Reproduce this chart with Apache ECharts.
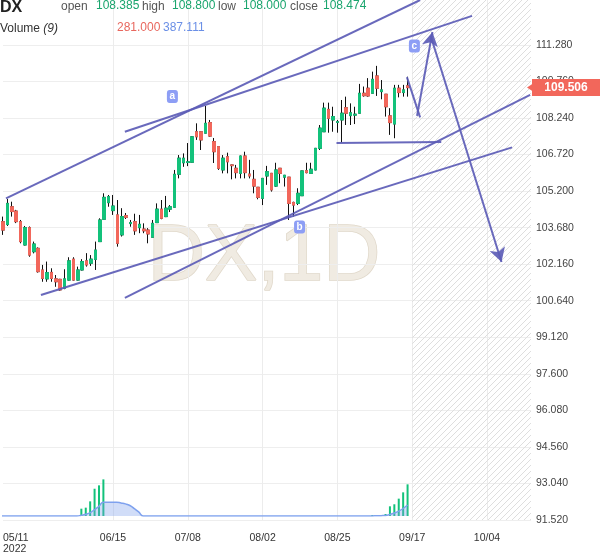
<!DOCTYPE html>
<html>
<head>
<meta charset="utf-8">
<script src="https://cdn.jsdelivr.net/npm/echarts@6.0.0/dist/echarts.min.js"></script>
<style>
  html, body { margin: 0; padding: 0; background: #fff; }
  #main { width: 600px; height: 558px; }
</style>
</head>
<body>
<div id="main"></div>
<script>
// daily bars, 2022-05-11 .. 2022-09-16
var openP = [103.93,103.81,104.55,104.37,103.93,102.96,103.68,102.68,102.82,101.92,
  101.55,101.82,101.55,101.53,101.16,101.50,102.37,101.50,101.92,102.30,
  102.20,102.36,103.10,104.03,104.72,104.39,104.21,103.38,104.18,103.85,
  103.93,103.68,103.62,103.58,103.28,103.89,104.45,104.14,104.45,104.53,
  105.90,106.38,106.39,106.40,107.67,107.67,107.61,108.05,107.26,107.05,
  106.08,106.63,106.29,106.15,105.94,106.66,105.91,105.69,105.36,104.90,
  105.83,105.94,105.41,106.15,105.78,105.78,104.73,104.69,105.01,106.05,
  105.94,106.08,106.98,107.67,108.60,108.16,108.06,108.16,108.67,108.34,
  108.36,108.44,109.27,109.48,109.27,109.99,109.34,109.23,108.33,107.99,
  109.48,109.30,109.58];
var highP = [104.14,104.87,104.76,104.42,104.00,103.75,103.73,103.10,102.86,102.13,
  102.27,101.99,101.71,101.55,101.95,102.45,102.45,102.06,102.37,102.62,
  102.54,103.10,104.07,105.11,105.04,105.04,104.83,104.49,104.29,104.00,
  104.26,104.21,103.86,103.66,104.00,104.69,104.83,105.00,104.62,106.08,
  106.70,106.77,107.20,107.49,108.02,107.70,108.74,108.16,107.41,107.06,
  106.70,106.80,106.30,106.29,106.67,106.84,106.50,106.08,105.37,105.74,
  106.25,105.95,106.38,106.16,105.87,105.79,104.76,105.32,106.05,106.38,
  106.38,106.99,107.95,108.88,108.88,108.71,108.16,108.99,109.13,108.85,
  108.71,109.66,109.55,109.90,110.17,110.41,109.82,109.24,108.65,109.62,
  109.62,109.62,109.96];
var lowP = [103.38,103.75,104.14,103.87,103.03,102.94,102.47,102.61,101.81,101.43,
  101.43,101.43,101.22,101.06,101.12,101.48,101.48,101.48,101.90,102.06,
  102.09,101.92,103.09,104.02,104.55,104.21,102.89,103.31,104.04,103.72,
  103.38,103.45,103.45,103.03,103.27,103.88,104.03,104.12,104.33,104.52,
  105.73,106.21,106.24,106.38,107.33,106.91,107.60,107.46,106.37,106.08,
  105.94,105.94,105.69,105.73,105.73,105.73,105.73,105.11,104.86,104.62,
  105.46,105.18,105.38,105.53,105.39,104.00,104.14,104.62,105.00,105.94,
  105.93,106.07,106.91,107.66,107.63,107.67,107.63,107.22,107.95,107.95,
  107.99,108.43,109.13,109.13,109.26,109.16,109.02,108.30,107.54,107.40,
  109.10,109.13,109.13];
var closeP = [103.58,104.69,104.35,103.93,103.10,103.68,102.54,103.00,101.85,101.57,
  101.81,101.57,101.43,101.09,101.55,102.30,101.50,101.92,102.27,102.13,
  102.37,102.75,104.00,104.94,104.97,104.58,103.03,104.14,104.11,103.89,
  103.55,103.82,103.55,103.42,103.86,104.45,104.07,104.49,104.55,105.90,
  106.57,106.57,106.42,107.46,107.46,107.33,108.02,107.49,106.84,106.15,
  106.57,106.42,106.26,105.97,106.66,105.97,105.83,105.41,104.94,105.73,
  106.01,105.25,106.08,105.94,105.86,104.69,104.62,105.11,106.04,105.97,
  106.11,106.98,107.82,108.65,108.23,108.30,108.09,108.44,108.44,108.46,
  108.40,109.27,109.17,109.16,109.85,109.48,109.41,108.71,108.05,109.48,
  109.30,109.41,109.506];
var volume = [0,0,0,0,0,0,0,0,0,0,0,0,0,0,0,0,0,0,
  65,74,130,242,272,325,
  0,0,0,0,0,0,0,0,0,0,0,0,0,0,0,0,0,0,0,0,
  0,0,0,0,0,0,0,0,0,0,0,0,0,0,0,0,0,0,0,0,
  0,0,0,0,0,0,0,0,0,0,0,0,0,0,0,0,0,0,0,0,
  9,9,9,18,86,104,154,210,281];

var xTickLabels = ['05/11', '06/15', '07/08', '08/02', '08/25', '09/17', '10/04'];
var yTickStart = 91.52, yTickStep = 1.52, yTop = 113.15;
var lastPrice = 109.506;

var legendOHLC = [['open', '108.385'], ['high', '108.800'], ['low', '108.000'], ['close', '108.474']];
var legendVol = ['281.000', '387.111'];

// drawings: [bar index, price]
var trendLines = [
  [[0.68, 104.90], [94.8, 113.15]],
  [[27.7, 107.67], [106.6, 112.49]],
  [[8.62, 100.88], [115.7, 107.02]],
  [[27.7, 100.76], [119.8, 109.20]],
  [[75.8, 107.20], [99.6, 107.24]],
  [[91.8, 109.94], [94.8, 108.27]]
];
var arrowLines = [
  [[94.1, 108.33], [97.6, 111.82]],
  [[97.2, 111.65], [113.3, 102.25]]
];
var waveMarks = [['a', 38.5, 109.14], ['b', 67.4, 103.71], ['c', 93.5, 111.24]];

// x slots: trading days, then calendar days after last bar
var slots = 121;
var categories = [];
(function () {
  var d = new Date(2022, 4, 11);
  var lastBar = new Date(2022, 8, 16);
  while (categories.length < slots) {
    var wd = d.getDay();
    if (d > lastBar || (wd !== 0 && wd !== 6)) {
      var m = d.getMonth() + 1, day = d.getDate();
      categories.push((m < 10 ? '0' : '') + m + '/' + (day < 10 ? '0' : '') + day);
    }
    d.setDate(d.getDate() + 1);
  }
})();

var UP = '#13c27b', DOWN = '#f2675b', LINE = 'rgba(92,92,182,0.92)';
var FONT = '"Liberation Sans", Arial, sans-serif';

var wickData = [], bodyData = [];
for (var i = 0; i < openP.length; i++) {
  wickData.push([openP[i], closeP[i], lowP[i], highP[i]]);
  bodyData.push([openP[i], closeP[i], Math.min(openP[i], closeP[i]), Math.max(openP[i], closeP[i])]);
}
var volMA = volume.map(function (v, i) {
  var s = 0;
  for (var k = Math.max(0, i - 8); k <= i; k++) s += volume[k];
  return +(s / 9).toFixed(3);
});

function hatchPattern() {
  var c = document.createElement('canvas');
  c.width = 6; c.height = 6;
  var ctx = c.getContext('2d');
  ctx.strokeStyle = '#dedede';
  ctx.lineWidth = 1;
  ctx.beginPath();
  ctx.moveTo(0, 6); ctx.lineTo(6, 0);
  ctx.moveTo(-1, 1); ctx.lineTo(1, -1);
  ctx.moveTo(5, 7); ctx.lineTo(7, 5);
  ctx.stroke();
  return c;
}

var splitColors = [];
for (var k = 0; k < 14; k++) splitColors.push('#eeeeee');
splitColors.push('rgba(0,0,0,0)', 'rgba(0,0,0,0)');

var showTick = function (idx, val) { return xTickLabels.indexOf(val) >= 0; };
var showGrid = function (idx, val) { return idx > 0 && xTickLabels.indexOf(val) >= 0; };

var markLines = [];
trendLines.forEach(function (l) {
  markLines.push([{ coord: l[0] }, { coord: l[1] }]);
});
arrowLines.forEach(function (l) {
  markLines.push([{ coord: l[0] }, { coord: l[1], symbol: 'arrow', symbolSize: [12, 14] }]);
});

var markPoints = waveMarks.map(function (w) {
  return {
    coord: [w[1], w[2]], symbol: 'roundRect', symbolSize: [11, 13],
    itemStyle: { color: '#8d9ef5' },
    label: { show: true, formatter: w[0], color: '#fff', fontSize: 10, fontWeight: 'bold', fontFamily: FONT }
  };
});
// last price tag on the right edge
markPoints.push({
  coord: [slots - 1, lastPrice], symbol: 'triangle', symbolSize: [8, 6], symbolRotate: 90,
  symbolOffset: [-1, 0], itemStyle: { color: DOWN }, label: { show: false }
});
markPoints.push({
  coord: [slots - 1, lastPrice], symbol: 'rect', symbolSize: [68, 17],
  symbolOffset: [35, 0], itemStyle: { color: DOWN },
  label: {
    show: true, position: 'inside', formatter: lastPrice.toFixed(3),
    color: '#fff', fontWeight: 'bold', fontSize: 12, fontFamily: FONT
  }
});

var graphics = [
  { type: 'text', left: 0, top: 0, z: 100, style: { text: 'DX', fontSize: 16, fontWeight: 'bold', fontFamily: FONT, fill: '#222' } }
];
var legendX = [[61, 96], [142, 172], [218, 243], [290, 323]];
legendOHLC.forEach(function (p, i) {
  graphics.push({ type: 'text', left: legendX[i][0], top: 1, z: 100, style: { text: p[0], fontSize: 12, fontFamily: FONT, fill: '#555' } });
  graphics.push({ type: 'text', left: legendX[i][1], top: 0, z: 100, style: { text: p[1], fontSize: 12, fontFamily: FONT, fill: '#1aa56e' } });
});
graphics.push({
  type: 'text', left: 0, top: 23, z: 100,
  style: {
    text: '{a|Volume} {b|(9)}', fontSize: 12, fontFamily: FONT, fill: '#333',
    rich: { a: { fontSize: 12, fontFamily: FONT, fill: '#333' }, b: { fontSize: 12, fontStyle: 'italic', fontFamily: FONT, fill: '#333' } }
  }
});
graphics.push({ type: 'text', left: 117, top: 22, z: 100, style: { text: legendVol[0], fontSize: 12, fontFamily: FONT, fill: '#e8675e' } });
graphics.push({ type: 'text', left: 163, top: 22, z: 100, style: { text: legendVol[1], fontSize: 12, fontFamily: FONT, fill: '#6a8fe6' } });
graphics.push({
  type: 'text', x: 264, y: 258, z: 0, silent: true,
  style: {
    text: 'DX,1D', align: 'center', verticalAlign: 'middle', fontSize: 79, fontFamily: FONT,
    fill: '#f0ebe2', stroke: '#e0d8ca', lineWidth: 1.5
  }
});

var chart = echarts.init(document.getElementById('main'));
chart.setOption({
  animation: false,
  backgroundColor: '#fff',
  graphic: graphics,
  grid: [
    { left: 2, right: 69, top: 0, bottom: 38 },
    { left: 2, right: 69, top: 476, bottom: 42 }
  ],
  xAxis: [
    {
      type: 'category', gridIndex: 0, data: categories, boundaryGap: false,
      axisLine: { show: false }, axisTick: { show: false },
      axisLabel: {
        interval: showTick, margin: 13, fontSize: 10.5, lineHeight: 11, color: '#333', fontFamily: FONT,
        alignMinLabel: 'left',
        formatter: function (v, idx) { return idx === 0 ? v + '\n2022' : v; }
      },
      splitLine: { show: true, interval: showGrid, lineStyle: { color: '#ececec', width: 1 } }
    },
    {
      type: 'category', gridIndex: 1, data: categories, boundaryGap: false, show: false
    },
    {
      type: 'value', gridIndex: 0, min: 0, max: slots - 1, show: false, splitLine: { show: false }
    }
  ],
  yAxis: [
    {
      type: 'value', gridIndex: 0, position: 'right', min: yTickStart, max: yTop, interval: yTickStep,
      axisLine: { show: false }, axisTick: { show: false },
      axisLabel: {
        margin: 5, align: 'left', fontSize: 10.5, color: '#444', fontFamily: FONT,
        formatter: function (v) { return v > 112 ? '' : v.toFixed(3); }
      },
      splitLine: { show: true, lineStyle: { color: splitColors, width: 1 } }
    },
    {
      type: 'value', gridIndex: 1, min: 0, max: 355, show: false, splitLine: { show: false }
    }
  ],
  series: [
    {
      type: 'candlestick', name: 'wick', xAxisIndex: 0, yAxisIndex: 0, data: wickData,
      barWidth: 3, clip: false,
      itemStyle: { color: 'transparent', color0: 'transparent', borderColor: '#111', borderColor0: '#111', borderWidth: 1 }
    },
    {
      type: 'candlestick', name: 'body', xAxisIndex: 0, yAxisIndex: 0, data: bodyData,
      barWidth: 3, clip: false,
      itemStyle: { color: UP, color0: DOWN, borderColor: UP, borderColor0: DOWN, borderWidth: 1 }
    },
    {
      type: 'line', name: 'volMA', xAxisIndex: 1, yAxisIndex: 1, data: volMA,
      smooth: 0.5, showSymbol: false, symbol: 'none',
      lineStyle: { color: '#7ea1ee', width: 1.5 },
      areaStyle: { color: 'rgba(125,160,235,0.5)' }
    },
    {
      type: 'bar', name: 'volume', xAxisIndex: 1, yAxisIndex: 1, data: volume,
      barWidth: 2, itemStyle: { color: UP }
    },
    {
      type: 'line', name: 'drawings', xAxisIndex: 2, yAxisIndex: 0, data: [],
      markArea: {
        silent: true,
        itemStyle: { color: { image: hatchPattern(), repeat: 'repeat' } },
        data: [[{ xAxis: 93 }, { xAxis: slots - 1 }]]
      },
      markLine: {
        silent: true, animation: false, symbol: ['none', 'none'],
        lineStyle: { color: LINE, width: 2, type: 'solid' },
        label: { show: false },
        data: markLines
      },
      markPoint: {
        silent: true, animation: false,
        data: markPoints
      }
    }
  ]
});
</script>
</body>
</html>
